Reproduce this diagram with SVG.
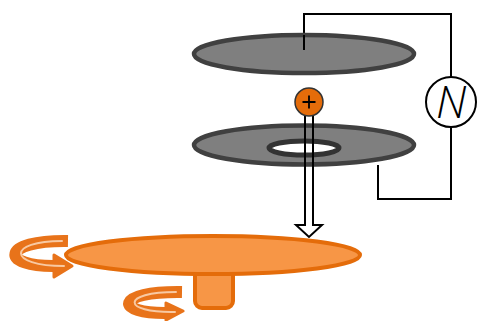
<svg xmlns="http://www.w3.org/2000/svg" width="481" height="321" viewBox="0 0 481 321">
  <style>
    .wire { fill: none; stroke: #000; stroke-width: 2; }
    .plate { fill: #7f7f7f; stroke: #404040; stroke-width: 4.5; }
    .orange { fill: #f79646; stroke: #e46c0a; stroke-width: 4; }
    .spin { fill: none; stroke: #e8731a; stroke-width: 12; }
    .spin-hi { fill: none; stroke: #f8c9a2; stroke-width: 2; stroke-linecap: round; }
  </style>

  <g id="connectors">
    <path class="wire" d="M304,50 V14 H451 V77"/>
    <path class="wire" d="M451,127 V199 H378 V165"/>
  </g>

  <g id="top-plate">
    <ellipse class="plate" cx="304" cy="54" rx="110" ry="19"/>
    <path class="wire" d="M304,50 V35"/>
  </g>

  <g id="ac-source">
    <circle cx="451" cy="102" r="25" fill="#fff" stroke="#000" stroke-width="2"/>
    <text x="451" y="118" text-anchor="middle" font-family="'Open Sans', 'Noto Sans', sans-serif" font-weight="300" font-style="italic" font-size="44">N</text>
  </g>

  <g id="bottom-plate">
    <ellipse class="plate" cx="304" cy="145" rx="110" ry="19.5"/>
    <ellipse cx="304" cy="148" rx="35" ry="7" fill="#fff" stroke="#333" stroke-width="5"/>
  </g>

  <g id="beam">
    <path d="M305,114 V225 H296 L309,237 L322,225 H313 V114" fill="none" stroke="#000" stroke-width="2"/>
  </g>

  <g id="ion">
    <circle cx="309" cy="102" r="14" fill="#e46c0a" stroke="#333" stroke-width="1.5"/>
    <path d="M302.5,102 H315.5 M309,95.5 V108.5" stroke="#000" stroke-width="1.8" fill="none"/>
  </g>

  <g id="rotor">
    <rect class="orange" x="195" y="262" width="38" height="46" rx="7" ry="7"/>
    <ellipse class="orange" cx="213" cy="255" rx="147" ry="19"/>
  </g>

  <g id="spin-left">
    <path class="spin" d="M68,241 C0,240 0,267 56,266"/>
    <polygon points="54,255 54,277 72,266" fill="#e8731a" stroke="#e8731a" stroke-width="3" stroke-linejoin="round"/>
    <path class="spin-hi" d="M62,241 C7,241 7,266 64,266"/>
  </g>

  <g id="spin-stem">
    <path class="spin" d="M182,292 C114,291 114,314 168,313"/>
    <polygon points="166,303 166,320 183,311" fill="#e8731a" stroke="#e8731a" stroke-width="3" stroke-linejoin="round"/>
    <path class="spin-hi" d="M176,292 C121,292 121,313 175,312"/>
  </g>
</svg>
